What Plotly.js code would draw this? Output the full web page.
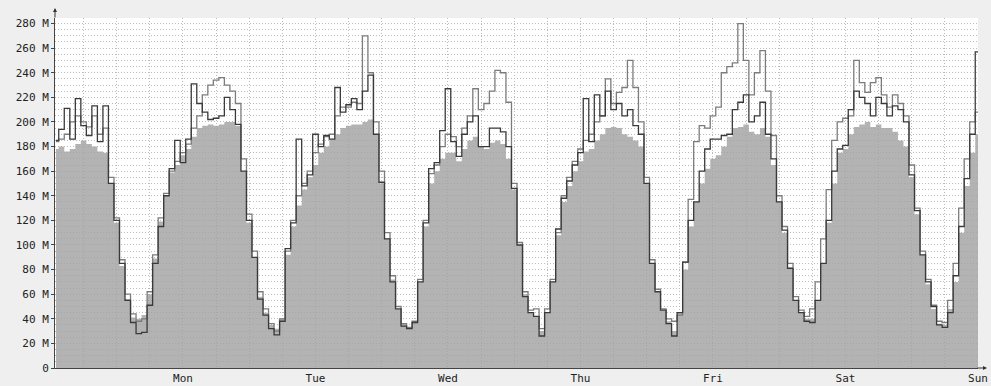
<!DOCTYPE html>
<html>
<head>
<meta charset="utf-8">
<script src="https://cdn.plot.ly/plotly-3.0.1.min.js"></script>
<style>
  html, body { margin: 0; padding: 0; background: #efefef; }
  #chart { width: 991px; height: 386px; }
</style>
</head>
<body>
<div id="chart"></div>
<script>
// Day labels (midnight positions, hours since first Sunday 00:00)
const dayLabels = ["Mon", "Tue", "Wed", "Thu", "Fri", "Sat", "Sun"];
const dayHours = [24, 48, 72, 96, 120, 144, 168];
const noonHours = [12, 36, 60, 84, 108, 132, 156];

// Y tick values (millions) and labels
const yTickVals = [0, 20, 40, 60, 80, 100, 120, 140, 160, 180, 200, 220, 240, 260, 280];
const yTickText = ["0", "20 M", "40 M", "60 M", "80 M", "100 M", "120 M", "140 M", "160 M", "180 M", "200 M", "220 M", "240 M", "260 M", "280 M"];

// Hourly samples (M), hour 1 .. 168
const areaSeries = [
  178,180,176,178,182,185,182,180,176,175,150,118,83,56,41,40,43,60,89,119,140,159,165,173,
  178,188,195,197,198,197,198,200,200,197,160,118,90,58,45,35,32,40,92,115,132,145,155,165,
  175,180,186,190,195,197,198,198,200,202,190,150,105,72,48,36,33,38,70,115,150,160,170,175,
  175,168,178,185,188,180,178,183,185,182,170,145,100,60,45,42,30,45,70,108,135,148,160,168,
  176,178,185,190,195,196,195,190,188,185,180,150,85,62,47,38,30,45,80,115,135,150,162,170,
  173,180,188,195,196,198,192,190,195,188,165,135,110,82,55,45,40,40,55,85,118,150,175,178,
  190,196,198,200,196,198,195,195,192,185,180,155,125,92,68,48,36,35,48,70,110,148,175,190
];
const darkSeries = [
  185,194,211,186,219,197,189,213,184,213,150,120,85,55,37,28,29,51,85,115,140,162,185,167,
  186,231,215,208,202,203,205,220,210,198,160,120,90,56,43,32,27,38,97,118,186,148,157,190,
  180,189,186,228,208,214,219,210,225,238,190,151,105,70,48,34,32,37,70,118,162,167,193,227,
  184,172,190,200,205,180,180,195,195,192,180,146,100,58,45,42,26,45,70,113,138,152,165,175,
  219,184,222,205,225,210,215,205,210,197,190,150,85,62,47,36,26,45,86,120,135,160,178,186,
  186,189,190,210,216,222,200,205,216,190,170,135,112,81,55,45,38,37,55,85,120,160,178,181,
  210,225,220,215,205,220,215,205,213,210,200,157,128,92,70,50,35,33,45,75,115,154,190,257
];
const mediumSeries = [
  184,186,190,200,205,200,196,205,190,195,155,122,88,60,44,38,40,62,92,122,142,160,168,175,
  182,195,205,222,230,234,236,230,225,215,170,125,95,62,48,36,30,40,95,120,140,150,160,175,
  182,188,190,205,212,212,216,215,270,240,200,160,110,75,50,36,33,38,72,120,158,165,180,190,
  188,180,195,205,227,210,215,225,242,240,216,150,102,62,47,48,32,48,72,110,140,155,168,178,
  185,190,200,205,235,215,224,228,250,228,200,155,88,64,48,40,38,43,86,137,184,197,195,205,
  212,240,245,248,280,250,222,240,258,225,189,140,115,85,58,47,42,48,70,105,145,185,200,203,
  205,250,232,224,232,236,222,212,222,215,205,165,130,95,72,51,38,37,55,85,130,170,200,208
];

const hours = [];
for (let i = 0; i < areaSeries.length; i++) hours.push(i + 1);

const gridColor = "#bcbcbc";
const gridDash = "1px,2px";

const traces = [
  { x: hours, y: areaSeries, type: "scatter", mode: "lines", fill: "tozeroy",
    fillcolor: "rgba(160,160,160,0.8)", line: { width: 0, shape: "hvh" }, hoverinfo: "skip" },
  { x: hours, y: mediumSeries, type: "scatter", mode: "lines",
    line: { color: "#7c7c7c", width: 1.3, shape: "hvh" }, hoverinfo: "skip" },
  { x: hours, y: darkSeries, type: "scatter", mode: "lines",
    line: { color: "#3a3a3a", width: 1.3, shape: "hvh" }, hoverinfo: "skip" }
];

const layout = {
  width: 991, height: 386,
  margin: { l: 55, r: 13, t: 18, b: 18 },
  paper_bgcolor: "#efefef",
  plot_bgcolor: "#ffffff",
  showlegend: false,
  font: { family: "DejaVu Sans Mono, monospace", size: 11, color: "#222" },
  xaxis: {
    range: [0.82, 168],
    tickmode: "array", tickvals: dayHours, ticktext: dayLabels,
    ticks: "", showgrid: true, gridcolor: gridColor, griddash: gridDash,
    showline: true, linecolor: "#444", linewidth: 1, zeroline: false,
    minor: { tickmode: "linear", tick0: 0, dtick: 6, showgrid: true, gridcolor: gridColor, griddash: gridDash, ticks: "" }
  },
  xaxis2: {
    overlaying: "x", anchor: "y", side: "bottom",
    range: [0.82, 168],
    tickmode: "array", tickvals: noonHours, showticklabels: false,
    ticks: "outside", ticklen: 3, tickcolor: "#444", showgrid: false, zeroline: false, showline: false
  },
  yaxis: {
    range: [0, 284.5],
    tickmode: "array", tickvals: yTickVals, ticktext: yTickText,
    ticks: "outside", ticklen: 3, tickcolor: "#444",
    showgrid: true, gridcolor: gridColor, griddash: gridDash,
    showline: true, linecolor: "#444", linewidth: 1, zeroline: false,
    minor: { tickmode: "linear", tick0: 0, dtick: 5, showgrid: true, gridcolor: gridColor, griddash: gridDash, ticks: "" }
  },
  annotations: [
    { xref: "paper", yref: "paper", x: 1 + 9 / 923, y: 0, ax: -11, ay: 0, text: "",
      showarrow: true, arrowhead: 2, arrowsize: 0.8, arrowwidth: 1, arrowcolor: "#333" },
    { xref: "paper", yref: "paper", x: 0, y: 1 + 10 / 349.5, ax: 0, ay: 11, text: "",
      showarrow: true, arrowhead: 2, arrowsize: 0.8, arrowwidth: 1, arrowcolor: "#333" }
  ]
};

Plotly.newPlot("chart", traces, layout, { staticPlot: true, displayModeBar: false });
</script>
</body>
</html>
